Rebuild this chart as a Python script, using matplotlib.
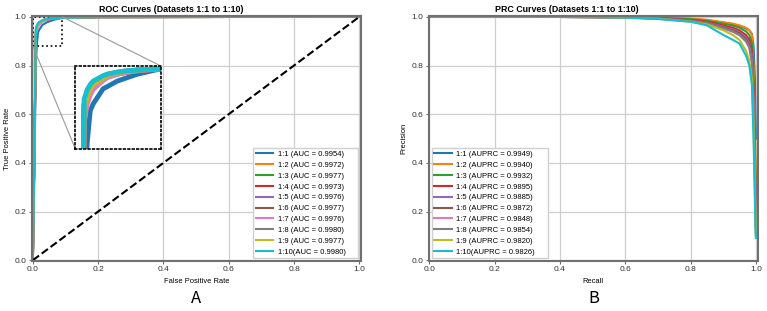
import matplotlib
matplotlib.use("Agg")
import matplotlib.pyplot as plt
from mpl_toolkits.axes_grid1.inset_locator import mark_inset

plt.rcParams['font.family'] = ['Liberation Sans', 'DejaVu Sans']

ratios = ['1:1', '1:2', '1:3', '1:4', '1:5', '1:6', '1:7', '1:8', '1:9', '1:10']
roc_auc = [0.9954, 0.9972, 0.9977, 0.9973, 0.9976, 0.9977, 0.9976, 0.9980, 0.9977, 0.9980]
pr_auc = [0.9949, 0.9940, 0.9932, 0.9895, 0.9885, 0.9872, 0.9848, 0.9854, 0.9820, 0.9826]

# ROC curves, shared fpr grid
roc_fpr = [0.0, 0.004, 0.0094, 0.0126, 0.0157, 0.0188, 0.0293, 0.0335, 0.044, 0.0544, 0.065, 0.09, 0.2, 1.0]
roc_tpr = [
    [0.0, 0.30, 0.820, 0.890, 0.935, 0.945, 0.967, 0.970, 0.978, 0.983, 0.988, 0.996, 0.999, 1.0],
    [0.0, 0.38, 0.935, 0.955, 0.965, 0.972, 0.982, 0.985, 0.989, 0.991, 0.993, 0.996, 0.999, 1.0],
    [0.0, 0.39, 0.945, 0.960, 0.969, 0.975, 0.984, 0.987, 0.990, 0.992, 0.994, 0.996, 0.999, 1.0],
    [0.0, 0.37, 0.930, 0.952, 0.963, 0.970, 0.981, 0.984, 0.988, 0.991, 0.993, 0.996, 0.999, 1.0],
    [0.0, 0.39, 0.940, 0.957, 0.967, 0.974, 0.983, 0.986, 0.990, 0.992, 0.994, 0.996, 0.999, 1.0],
    [0.0, 0.39, 0.945, 0.959, 0.968, 0.975, 0.984, 0.987, 0.990, 0.992, 0.994, 0.996, 0.999, 1.0],
    [0.0, 0.36, 0.920, 0.945, 0.958, 0.966, 0.979, 0.983, 0.988, 0.991, 0.993, 0.996, 0.999, 1.0],
    [0.0, 0.40, 0.950, 0.964, 0.972, 0.977, 0.985, 0.988, 0.991, 0.993, 0.994, 0.996, 0.999, 1.0],
    [0.0, 0.38, 0.935, 0.955, 0.966, 0.973, 0.982, 0.986, 0.990, 0.992, 0.994, 0.996, 0.999, 1.0],
    [0.0, 0.40, 0.952, 0.966, 0.973, 0.978, 0.986, 0.988, 0.991, 0.993, 0.994, 0.996, 0.999, 1.0],
]

# PR curves, shared recall grid
prc_recall = [0.0, 0.3, 0.5, 0.6, 0.7, 0.8, 0.85, 0.9, 0.93, 0.95, 0.97, 0.98, 0.988, 0.993, 0.997, 1.0]
prc_precision = [
    [1.0, 1.0, 0.999, 0.998, 0.996, 0.991, 0.986, 0.976, 0.970, 0.963, 0.952, 0.944, 0.930, 0.880, 0.750, 0.500],
    [1.0, 1.0, 0.999, 0.998, 0.997, 0.993, 0.988, 0.978, 0.972, 0.965, 0.955, 0.945, 0.925, 0.800, 0.550, 0.333],
    [1.0, 1.0, 0.999, 0.998, 0.996, 0.990, 0.984, 0.972, 0.964, 0.955, 0.940, 0.925, 0.890, 0.750, 0.500, 0.250],
    [1.0, 1.0, 0.999, 0.997, 0.995, 0.987, 0.980, 0.965, 0.955, 0.944, 0.925, 0.905, 0.860, 0.700, 0.450, 0.200],
    [1.0, 1.0, 0.999, 0.997, 0.994, 0.985, 0.977, 0.960, 0.948, 0.936, 0.915, 0.893, 0.840, 0.670, 0.400, 0.167],
    [1.0, 1.0, 0.999, 0.997, 0.994, 0.984, 0.975, 0.957, 0.944, 0.932, 0.908, 0.885, 0.830, 0.650, 0.380, 0.143],
    [1.0, 1.0, 0.999, 0.997, 0.993, 0.982, 0.972, 0.952, 0.938, 0.924, 0.898, 0.872, 0.810, 0.620, 0.350, 0.125],
    [1.0, 1.0, 0.999, 0.997, 0.993, 0.982, 0.973, 0.954, 0.940, 0.926, 0.900, 0.876, 0.815, 0.630, 0.360, 0.111],
    [1.0, 1.0, 0.999, 0.996, 0.992, 0.980, 0.969, 0.945, 0.925, 0.905, 0.860, 0.820, 0.740, 0.550, 0.300, 0.100],
    [1.0, 1.0, 0.999, 0.997, 0.991, 0.980, 0.965, 0.926, 0.905, 0.890, 0.840, 0.800, 0.720, 0.500, 0.250, 0.091],
]

colors = ['C%d' % i for i in range(10)]

fig = plt.figure(figsize=(7.67, 3.11), dpi=100)
ax1 = fig.add_axes([0.042, 0.161, 0.429, 0.788])
ax2 = fig.add_axes([0.559, 0.161, 0.429, 0.788])


def style_axes(ax):
    ax.set_xlim(-0.002, 1.006)
    ax.set_ylim(-0.003, 1.004)
    ax.set_xticks([0, 0.2, 0.4, 0.6, 0.8, 1.0])
    ax.set_yticks([0, 0.2, 0.4, 0.6, 0.8, 1.0])
    ax.grid(True, color='#cfcfcf', lw=0.9)
    ax.set_axisbelow(True)
    ax.tick_params(labelsize=6, length=2, color='#707070', pad=2, labelcolor='#333333')
    for sp in ax.spines.values():
        sp.set_color('#707070')
        sp.set_linewidth(1.5)


def add_legend(ax, x0, width):
    ax.legend(loc='lower left', bbox_to_anchor=(x0, 0.012, width, 0.4), mode='expand',
              borderaxespad=0, fontsize=5.5, handlelength=2.3, handletextpad=0.6,
              labelspacing=0.46, borderpad=0.3, frameon=True, fancybox=False,
              edgecolor='#d0d0d0', framealpha=1)


# ROC
for i in range(len(ratios)):
    sep = ' ' if i < 9 else ''
    ax1.plot(roc_fpr, roc_tpr[i], color=colors[i], lw=1.5,
             label='%s%s(AUC = %.4f)' % (ratios[i], sep, roc_auc[i]))
ax1.plot([0, 1], [0, 1], 'k--', lw=1.5)
style_axes(ax1)
ax1.set_title('ROC Curves (Datasets 1:1 to 1:10)', fontsize=6.4, fontweight='bold', pad=3, x=0.422)
ax1.set_xlabel('False Positive Rate', fontsize=5.4, labelpad=3)
ax1.set_ylabel('True Positive Rate', fontsize=5.4, labelpad=3)
add_legend(ax1, 0.672, 0.319)

axins = ax1.inset_axes([0.13, 0.458, 0.262, 0.34], transform=ax1.transData)
for i in range(len(ratios)):
    axins.plot(roc_fpr, roc_tpr[i], color=colors[i], lw=3.5)
axins.set_xlim(0, 0.09)
axins.set_ylim(0.88, 1.0)
axins.set_xticks([])
axins.set_yticks([])
for sp in axins.spines.values():
    sp.set_linestyle(':')
    sp.set_edgecolor('black')
    sp.set_linewidth(1.2)
box, c1, c2 = mark_inset(ax1, axins, loc1=1, loc2=3, fc='none', ec='black', ls=':', lw=1.2)
for c in (c1, c2):
    c.set_color('#999999')
    c.set_linestyle('-')
    c.set_linewidth(0.8)

# PRC
for i in range(len(ratios)):
    sep = ' ' if i < 9 else ''
    ax2.plot(prc_recall, prc_precision[i], color=colors[i], lw=1.5,
             label='%s%s(AUPRC = %.4f)' % (ratios[i], sep, pr_auc[i]))
style_axes(ax2)
ax2.set_title('PRC Curves (Datasets 1:1 to 1:10)', fontsize=6.4, fontweight='bold', pad=3, x=0.42)
ax2.set_xlabel('Recall', fontsize=5.4, labelpad=3)
ax2.set_ylabel('Precision', fontsize=5.4, labelpad=3)
add_legend(ax2, 0.009, 0.353)

fig.text(0.256, 0.04, 'A', fontsize=12, ha='center', va='center', family=['Noto Sans CJK SC', 'DejaVu Sans'])
fig.text(0.774, 0.04, 'B', fontsize=12, ha='center', va='center', family=['Noto Sans CJK SC', 'DejaVu Sans'])

fig.savefig('out.png', dpi=100)
